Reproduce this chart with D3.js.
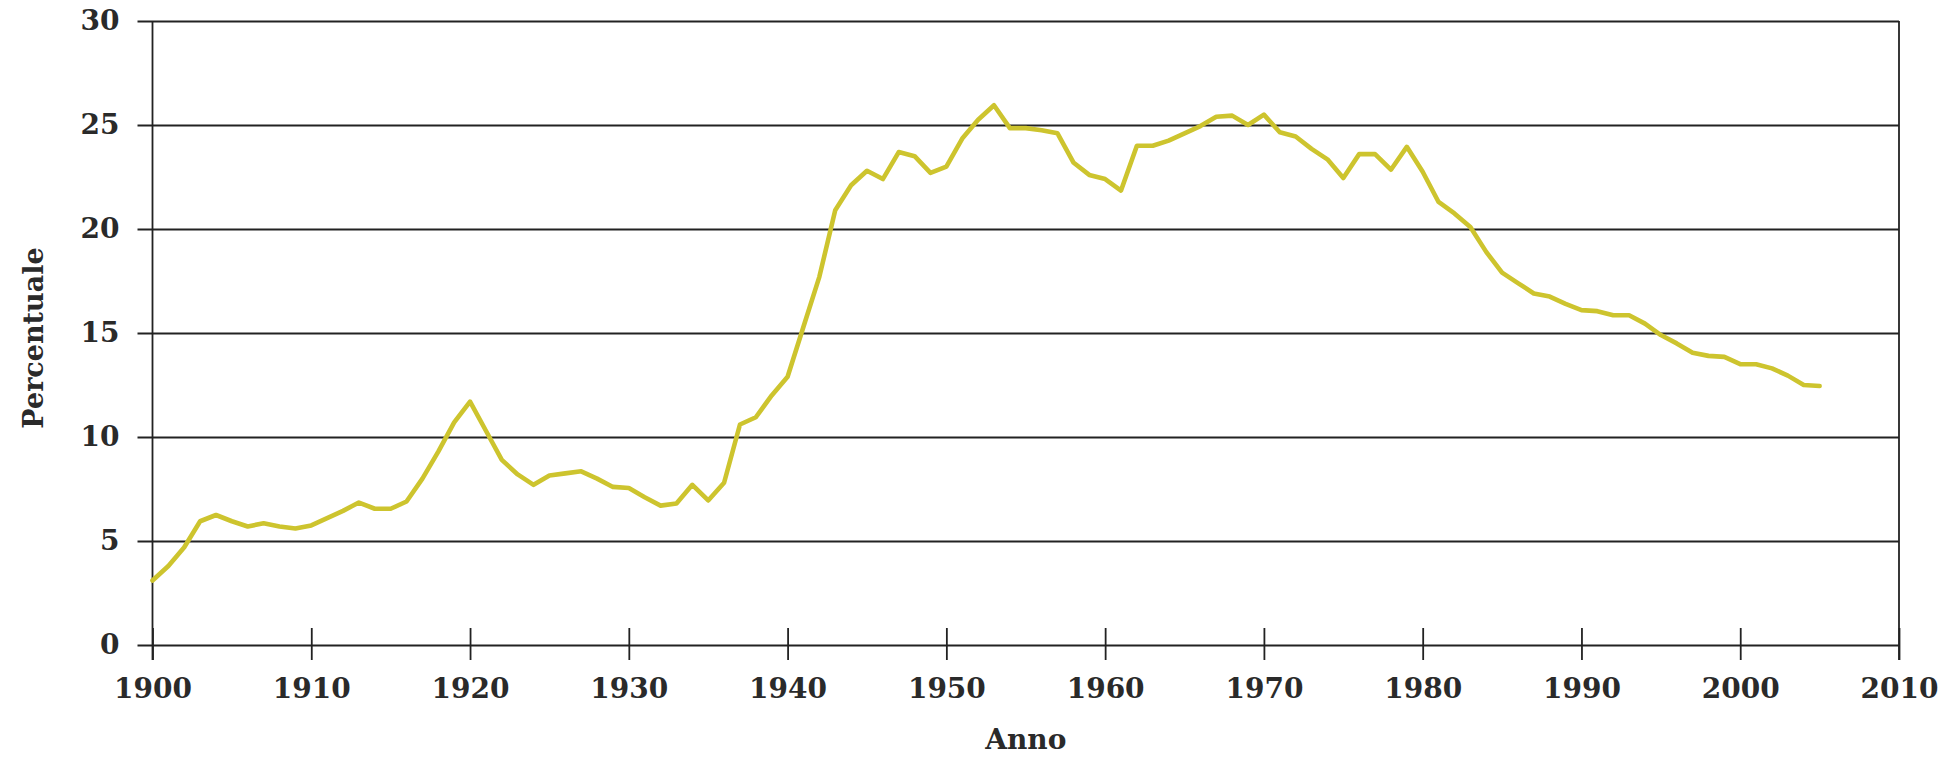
<!DOCTYPE html>
<html>
<head>
<meta charset="utf-8">
<script src="https://cdn.jsdelivr.net/npm/d3@7"></script>
<style>
  html, body { margin: 0; padding: 0; background: #fff; }
  svg { display: block; }
  text { font-family: "DejaVu Serif", serif; font-weight: bold; fill: #2a2a2a; }
</style>
</head>
<body>
<svg id="chart" width="1959" height="758"></svg>
<script>
// ---- Data ----
const years = d3.range(1900, 2006);
const values = [
  3.1, 3.8, 4.7, 5.95, 6.25, 5.95, 5.7, 5.85, 5.7, 5.6,
  5.75, 6.1, 6.45, 6.85, 6.55, 6.55, 6.9, 8.0, 9.3, 10.7,
  11.7, 10.3, 8.9, 8.2, 7.7, 8.15, 8.25, 8.35, 8.0, 7.6,
  7.55, 7.1, 6.7, 6.8, 7.7, 6.95, 7.8, 10.6, 10.95, 12.0,
  12.9, 15.3, 17.7, 20.9, 22.1, 22.8, 22.4, 23.7, 23.5, 22.7,
  23.0, 24.35, 25.25, 25.95, 24.85, 24.85, 24.75, 24.6, 23.2, 22.6,
  22.4, 21.85, 24.0, 24.0, 24.25, 24.6, 24.95, 25.4, 25.45, 25.0,
  25.5, 24.65, 24.45, 23.85, 23.35, 22.45, 23.6, 23.6, 22.85, 23.95,
  22.75, 21.3, 20.75, 20.1, 18.9, 17.9, 17.4, 16.9, 16.75, 16.4,
  16.1, 16.05, 15.85, 15.85, 15.45, 14.9, 14.5, 14.05, 13.9, 13.85,
  13.5, 13.5, 13.3, 12.95, 12.5, 12.45
];
const xTicks = [1900, 1910, 1920, 1930, 1940, 1950, 1960, 1970, 1980, 1990, 2000, 2010];
const yTicks = [0, 5, 10, 15, 20, 25, 30];
const xTitle = "Anno";
const yTitle = "Percentuale";

// ---- Layout ----
const svg = d3.select("#chart");
const pLeft = 152.5, pRight = 1899, pTop = 21, pBottom = 645;

const x = d3.scaleLinear().domain([1900, 2010]).range([pLeft, pRight]);
const y = d3.scaleLinear().domain([0, 30]).range([pBottom, pTop]);

// Horizontal gridlines + y labels
const yAxis = d3.axisLeft(y)
  .tickValues(yTicks)
  .tickSize(-(pRight - (pLeft - 15)))
  .tickSizeOuter(0)
  .tickPadding(18)
  .tickFormat(d3.format("d"));

const gy = svg.append("g")
  .attr("transform", `translate(${pLeft - 15},0)`)
  .call(yAxis);
gy.select(".domain").remove();
gy.selectAll(".tick line").attr("stroke", "#222").attr("stroke-width", 1.8);
gy.selectAll(".tick text")
  .attr("font-size", 28)
  .attr("font-family", "DejaVu Serif, serif")
  .attr("font-weight", "bold")
  .attr("fill", "#2a2a2a");

// X axis ticks + labels
const xAxis = d3.axisBottom(x)
  .tickValues(xTicks)
  .tickSize(15)
  .tickSizeOuter(0)
  .tickPadding(18)
  .tickFormat(d3.format("d"));

const gx = svg.append("g")
  .attr("transform", `translate(0,${pBottom})`)
  .call(xAxis);
gx.select(".domain").remove();
gx.selectAll(".tick line")
  .attr("y1", -17)
  .attr("y2", 15)
  .attr("stroke", "#222")
  .attr("stroke-width", 1.8);
gx.selectAll(".tick text")
  .attr("font-size", 28)
  .attr("font-family", "DejaVu Serif, serif")
  .attr("font-weight", "bold")
  .attr("fill", "#2a2a2a");

// Left and right frame lines
svg.append("line")
  .attr("x1", pLeft).attr("x2", pLeft)
  .attr("y1", pTop).attr("y2", pBottom + 15)
  .attr("stroke", "#222").attr("stroke-width", 1.8);
svg.append("line")
  .attr("x1", pRight).attr("x2", pRight)
  .attr("y1", pTop).attr("y2", pBottom + 15)
  .attr("stroke", "#222").attr("stroke-width", 1.8);

// Data line
const data = years.map((yr, i) => ({ yr, v: values[i] }));
const line = d3.line()
  .x(d => x(d.yr))
  .y(d => y(d.v));

svg.append("path")
  .datum(data)
  .attr("fill", "none")
  .attr("stroke", "#cdc42e")
  .attr("stroke-width", 4.6)
  .attr("stroke-linejoin", "round")
  .attr("stroke-linecap", "round")
  .attr("d", line);

// Axis titles
svg.append("text")
  .attr("x", (pLeft + pRight) / 2)
  .attr("y", 749)
  .attr("text-anchor", "middle")
  .attr("font-size", 28)
  .text(xTitle);

svg.append("text")
  .attr("transform", `translate(43,${(pTop + pBottom) / 2 + 5}) rotate(-90)`)
  .attr("text-anchor", "middle")
  .attr("font-size", 27)
  .text(yTitle);
</script>
</body>
</html>
